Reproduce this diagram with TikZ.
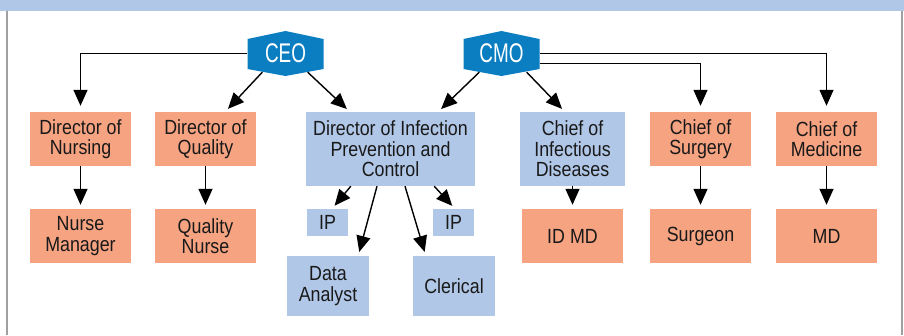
\documentclass[tikz,border=0pt]{standalone}
\usepackage{fontspec}
\setmainfont{Liberation Sans}[FakeStretch=0.87]
\newfontfamily\execfont{Liberation Sans}[FakeStretch=0.7]
\usepackage{tikz}
\usetikzlibrary{arrows.meta,calc,positioning}
\definecolor{salmon}{HTML}{F6A382}
\definecolor{paleblue}{HTML}{B1C7E7}
\definecolor{execblue}{HTML}{0B7DC1}
\definecolor{framegray}{HTML}{A0A0A0}
\tikzset{%
	staff/.style    = {rectangle, inner sep=0pt, align=center, text=black!90, font=\fontsize{20.5}{20.5}\selectfont},
	redbox/.style   = {staff, fill=salmon, minimum width=101pt, minimum height=54pt},
	bluebox/.style  = {staff, fill=paleblue},
	exec/.style     = {rectangle, inner sep=0pt, minimum width=76pt, minimum height=45pt, text=white,
		font=\execfont\fontsize{27}{27}\selectfont,
		path picture={\fill[execblue] (path picture bounding box.north) -- ([yshift=-8pt]path picture bounding box.north east)
			-- ([yshift=7pt]path picture bounding box.south east) -- (path picture bounding box.south)
			-- ([yshift=7pt]path picture bounding box.south west) -- ([yshift=-8pt]path picture bounding box.north west) -- cycle;}},
	arrow/.style    = {line width=1.4pt,-{Triangle[length=16pt,width=14pt]}},
}
\begin{document}
\begin{tikzpicture}[x=1pt,y=-1pt]
		\useasboundingbox (0,0) rectangle (904,335);
		\fill[paleblue] (0,0) rectangle (904,10.7);
		\draw[framegray,line width=1.5pt] (7,10.7) -- (7,335);
		\draw[framegray,line width=1.5pt] (902,10.7) -- (902,335);
		
		% executives
		\node[exec] (ceo) at (285.5,53.5) {CEO};
		\node[exec] (cmo) at (501.5,53.5) {CMO};
		
		% first row
		\node[redbox] (dn) at (80.5,139) {Director of\\Nursing};
		\node[redbox] (dq) at (205.5,139) {Director of\\Quality};
		\node[bluebox, minimum width=169pt, minimum height=74pt] (dipc) at (390.5,149) {Director of Infection\\Prevention and\\Control};
		\node[bluebox, minimum width=105pt, minimum height=74pt] (cid) at (572.5,149) {Chief of\\Infectious\\Diseases};
		\node[redbox] (cs) at (700.5,139) {Chief of\\Surgery};
		\node[redbox] (cm) at (826.5,139) {Chief of\\Medicine};
		
		% second row
		\node[redbox] (nm) at (80.5,236) {Nurse\\Manager};
		\node[redbox] (qn) at (205.5,236) {Quality\\Nurse};
		\node[bluebox, minimum width=41pt, minimum height=27pt] (ipl) at (327.5,222.5) {IP};
		\node[bluebox, minimum width=41pt, minimum height=27pt] (ipr) at (453.5,222.5) {IP};
		\node[bluebox, minimum width=82pt, minimum height=60pt] (da) at (328,286) {Data\\Analyst};
		\node[bluebox, minimum width=82pt, minimum height=60pt] (cl) at (454,286) {Clerical};
		\node[redbox] (idmd) at (572.5,236) {ID MD};
		\node[redbox] (sg) at (700.5,236) {Surgeon};
		\node[redbox] (md) at (826.5,236) {MD};
		
		% lines from the executives
		\draw[arrow, shorten >=6pt] (ceo.west) -| (dn.north);
		\draw[arrow, shorten >=4pt] ([xshift=15pt,yshift=4pt]ceo.south west) -- ([xshift=-31pt]dq.north east);
		\draw[arrow, shorten >=4pt] ([xshift=-16pt,yshift=4pt]ceo.south east) -- ([xshift=44pt]dipc.north west);
		\draw[arrow, shorten >=4pt] ([xshift=16pt,yshift=4pt]cmo.south west) -- ([xshift=-37pt]dipc.north east);
		\draw[arrow, shorten >=4pt] ([xshift=-13pt,yshift=4pt]cmo.south east) -- ([xshift=45pt]cid.north west);
		\draw[arrow, shorten >=6pt] ([yshift=-10pt]cmo.east) -| (cs.north);
		\draw[arrow, shorten >=6pt] (cmo.east) -| (cm.north);
		
		% lines to the staff
		\draw[arrow, shorten >=4pt] (dn) -- (nm);
		\draw[arrow, shorten >=4pt] (dq) -- (qn);
		\draw[arrow, shorten >=4pt] (cid) -- (idmd);
		\draw[arrow, shorten >=4pt] (cs) -- (sg);
		\draw[arrow, shorten >=4pt] (cm) -- (md);
		\draw[arrow, shorten >=4pt] ([xshift=45pt]dipc.south west) -- ([xshift=4.5pt]ipl.north);
		\draw[arrow, shorten >=4pt] ([xshift=-41pt]dipc.south east) -- ([xshift=1.5pt]ipr.north);
		\draw[arrow, shorten >=4pt] ([xshift=-13.5pt]dipc.south) -- ([xshift=-11pt]da.north east);
		\draw[arrow, shorten >=4pt] ([xshift=14.5pt]dipc.south) -- ([xshift=13pt]cl.north west);
		
\end{tikzpicture}
\end{document}
